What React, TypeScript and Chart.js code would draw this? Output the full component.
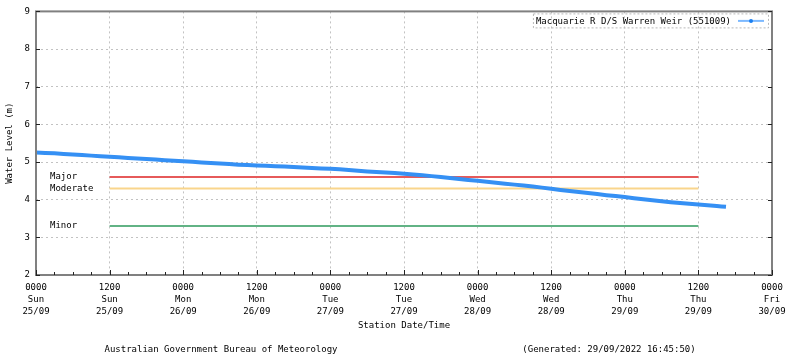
import React, { useEffect, useRef } from 'react';
import { Chart, registerables } from 'chart.js';

Chart.register(...registerables);

// Hours since 0000 Sun 25/09
const hours = [0, 3, 6, 9, 12, 15, 18, 21, 24, 27, 30, 33, 36, 39, 42, 45, 48, 51, 54, 57, 60, 63, 66, 69, 72, 75, 78, 81, 84, 87, 90, 93, 96, 99, 102, 105, 108, 111, 112.5];
const levels = [5.25, 5.23, 5.2, 5.17, 5.14, 5.11, 5.08, 5.05, 5.02, 4.99, 4.96, 4.93, 4.91, 4.89, 4.87, 4.84, 4.82, 4.79, 4.75, 4.72, 4.69, 4.65, 4.6, 4.55, 4.5, 4.45, 4.4, 4.35, 4.29, 4.23, 4.18, 4.12, 4.07, 4.01, 3.96, 3.91, 3.87, 3.83, 3.81];

const xTickHours = [0, 12, 24, 36, 48, 60, 72, 84, 96, 108, 120];
const xTickTimes = ['0000', '1200', '0000', '1200', '0000', '1200', '0000', '1200', '0000', '1200', '0000'];
const xTickDays = ['Sun', 'Sun', 'Mon', 'Mon', 'Tue', 'Tue', 'Wed', 'Wed', 'Thu', 'Thu', 'Fri'];
const xTickDates = ['25/09', '25/09', '26/09', '26/09', '27/09', '27/09', '28/09', '28/09', '29/09', '29/09', '30/09'];
const xMinorStep = 3;
const yMin = 2;
const yMax = 9;

const thresholdNames = ['Major', 'Moderate', 'Minor'];
const thresholdLevels = [4.6, 4.3, 3.3];
const thresholdColors = ['#e65a5a', '#f9d58c', '#62b385'];
const thresholdStartHour = 12;
const thresholdEndHour = 108;

const seriesName = 'Macquarie R D/S Warren Weir (551009)';
const xTitle = 'Station Date/Time';
const yTitle = 'Water Level (m)';
const footerLeft = 'Australian Government Bureau of Meteorology';
const footerRight = '(Generated: 29/09/2022 16:45:50)';

const FONT_FAMILY = '"DejaVu Sans Mono", "Liberation Mono", monospace';
const FONT_SIZE = 9;

const decorPlugin = {
  id: 'decor',
  afterDraw(chart: any) {
    const { ctx, chartArea, scales } = chart;
    const xs = scales.x;
    const ys = scales.y;
    const { left, right, top, bottom } = chartArea;
    ctx.save();
    // frame
    ctx.strokeStyle = '#808080';
    ctx.lineWidth = 2;
    ctx.setLineDash([]);
    ctx.strokeRect(left, top, right - left, bottom - top);

    // ticks
    ctx.strokeStyle = '#222';
    ctx.lineWidth = 1;
    for (let h = xs.min; h <= xs.max; h += xMinorStep) {
      const px = Math.round(xs.getPixelForValue(h)) + 0.5;
      const len = h % 12 === 0 ? 5 : 3;
      ctx.beginPath();
      ctx.moveTo(px, bottom);
      ctx.lineTo(px, bottom - len);
      ctx.stroke();
    }
    for (let v = yMin; v <= yMax; v += 1) {
      const py = Math.round(ys.getPixelForValue(v)) + 0.5;
      ctx.beginPath();
      ctx.moveTo(left, py);
      ctx.lineTo(left + 4, py);
      ctx.moveTo(right, py);
      ctx.lineTo(right - 4, py);
      ctx.stroke();
    }

    ctx.fillStyle = '#000';
    ctx.font = `${FONT_SIZE}px ${FONT_FAMILY}`;

    // threshold labels
    ctx.textAlign = 'left';
    ctx.textBaseline = 'middle';
    thresholdNames.forEach((name, i) => {
      const py = ys.getPixelForValue(thresholdLevels[i]);
      ctx.fillText(name, left + 14, py);
    });

    // titles
    ctx.textAlign = 'center';
    ctx.fillText(xTitle, (left + right) / 2, 326);
    ctx.fillText(footerLeft, 221, 350);
    ctx.fillText(footerRight, 609, 350);
    ctx.save();
    ctx.translate(10, (top + bottom) / 2);
    ctx.rotate(-Math.PI / 2);
    ctx.fillText(yTitle, 0, 0);
    ctx.restore();

    // legend
    const textW = ctx.measureText(seriesName).width;
    const sampleW = 30;
    const boxRight = right - 4;
    const boxLeft = boxRight - sampleW - 6 - textW - 4;
    const boxTop = top + 2;
    const boxBottom = top + 16;
    ctx.strokeStyle = '#b8b8b8';
    ctx.setLineDash([2, 2]);
    ctx.strokeRect(boxLeft + 0.5, boxTop + 0.5, boxRight - boxLeft, boxBottom - boxTop);
    ctx.setLineDash([]);
    ctx.textAlign = 'left';
    ctx.fillText(seriesName, boxLeft + 3, (boxTop + boxBottom) / 2 + 1);
    const sy = (boxTop + boxBottom) / 2 + 0.5;
    ctx.strokeStyle = '#7cb9ff';
    ctx.lineWidth = 2;
    ctx.beginPath();
    ctx.moveTo(boxRight - sampleW, sy);
    ctx.lineTo(boxRight - 4, sy);
    ctx.stroke();
    ctx.fillStyle = '#1a7ff0';
    ctx.beginPath();
    ctx.arc(boxRight - sampleW / 2 - 2, sy, 2, 0, Math.PI * 2);
    ctx.fill();
    ctx.restore();
  },
};

export default function App() {
  const ref = useRef<HTMLCanvasElement | null>(null);
  useEffect(() => {
    document.body.style.margin = '0';
    const canvas = ref.current;
    if (!canvas) return;
    const thresholdSets = thresholdNames.map((name, i) => ({
      label: name,
      data: [
        { x: thresholdStartHour, y: thresholdLevels[i] },
        { x: thresholdEndHour, y: thresholdLevels[i] },
      ],
      borderColor: thresholdColors[i],
      borderWidth: 2,
      pointRadius: 0,
      order: 2,
    }));
    const chart = new Chart(canvas, {
      type: 'line',
      data: {
        datasets: [
          ...thresholdSets,
          {
            label: seriesName,
            data: hours.map((h, i) => ({ x: h, y: levels[i] })),
            borderColor: '#3590f4',
            borderWidth: 4,
            pointRadius: 0,
            tension: 0.3,
            order: 1,
          },
        ],
      },
      options: {
        responsive: false,
        animation: false,
        events: [],
        layout: { padding: { top: 11, right: 28, left: 0, bottom: 0 } },
        plugins: { legend: { display: false }, tooltip: { enabled: false }, title: { display: false } },
        scales: {
          x: {
            type: 'linear',
            min: 0,
            max: 120,
            afterFit: (s: any) => { s.height = 83; },
            afterBuildTicks: (s: any) => { s.ticks = xTickHours.map((v) => ({ value: v })); },
            grid: { color: '#c2c2c2', drawTicks: false, tickLength: 0 } as any,
            border: { display: false, dash: [2, 3] },
            ticks: {
              autoSkip: false,
              maxRotation: 0,
              padding: 7,
              color: '#000',
              font: { family: FONT_FAMILY, size: FONT_SIZE, lineHeight: 1.3 },
              callback: (value: any) => {
                const i = xTickHours.indexOf(Number(value));
                return i < 0 ? '' : [xTickTimes[i], xTickDays[i], xTickDates[i]];
              },
            },
          },
          y: {
            type: 'linear',
            min: yMin,
            max: yMax,
            afterFit: (s: any) => { s.width = 36; },
            grid: { color: '#c2c2c2', drawTicks: false },
            border: { display: false, dash: [2, 3] },
            ticks: {
              stepSize: 1,
              padding: 6,
              color: '#000',
              font: { family: FONT_FAMILY, size: FONT_SIZE },
            },
          },
        },
      },
      plugins: [decorPlugin],
    });
    return () => chart.destroy();
  }, []);
  return <canvas ref={ref} width={800} height={358} style={{ display: 'block' }} />;
}
